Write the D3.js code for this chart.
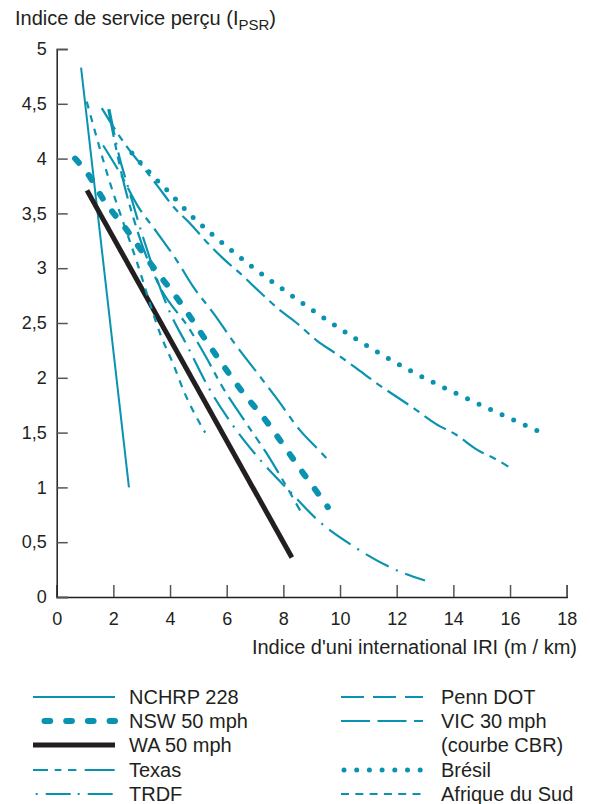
<!DOCTYPE html>
<html>
<head>
<meta charset="utf-8">
<script src="https://cdn.jsdelivr.net/npm/d3@7"></script>
<style>
  body { margin: 0; background: #fff; }
  svg { font-family: "Liberation Sans", Arial, sans-serif; }
</style>
</head>
<body>
<svg width="590" height="804"></svg>
<script>
// values: [IRI, PSR]
const nchrp = [[0.86, 4.83], [2.55, 1.0]];
const nsw = [[0.65, 4.0], [1.18, 3.83], [1.59, 3.65], [2.47, 3.35], [3.35, 3.03], [4.24, 2.73], [5.59, 2.22],
  [6.47, 1.90], [7.41, 1.60], [8.29, 1.28], [8.7, 1.13], [9.18, 0.96], [9.57, 0.82]];
const wa = [[1.07, 3.71], [8.3, 0.36]];
const texas = [[1.82, 4.45], [2.3, 3.85], [2.9, 3.3], [3.6, 2.85], [4.7, 2.44], [5.29, 2.18], [5.82, 1.93],
  [6.6, 1.62], [7.41, 1.31], [8.59, 0.79]];
const trdf = [[1.86, 4.45], [2.17, 4.06], [2.59, 3.68], [3.05, 3.28], [3.94, 2.63], [4.65, 2.27], [5.34, 1.92],
  [6.18, 1.58], [7.12, 1.27], [8.24, 0.96], [9.26, 0.69], [10.49, 0.46], [11.86, 0.26], [13.0, 0.15]];
const penn = [[1.64, 4.12], [2.23, 3.87], [2.88, 3.56], [3.53, 3.33], [4.24, 3.07], [4.82, 2.83], [5.53, 2.59],
  [6.29, 2.31], [7.18, 2.01], [7.77, 1.81], [8.59, 1.52], [9.29, 1.33], [9.65, 1.23]];
const vic = [[1.59, 4.46], [2.0, 4.29], [2.5, 4.1], [2.9, 3.97], [3.59, 3.74], [4.12, 3.56], [4.7, 3.41],
  [5.29, 3.24], [5.87, 3.09], [6.53, 2.94], [7.18, 2.78], [7.82, 2.63], [8.47, 2.50], [9.18, 2.34],
  [9.86, 2.22], [10.56, 2.09], [11.24, 1.96], [12.67, 1.71], [13.38, 1.58], [14.1, 1.48], [14.86, 1.34],
  [15.55, 1.25], [15.94, 1.19]];
const bresil = [[2.53, 4.09], [2.82, 4.0], [3.15, 3.91], [3.47, 3.82], [3.79, 3.74], [4.75, 3.48], [6.13, 3.17],
  [6.86, 3.02], [8.35, 2.74], [10.59, 2.35], [12.59, 2.05], [14.24, 1.84], [17.12, 1.50]];
const afrique = [[1.06, 4.52], [1.82, 3.83], [2.8, 3.08], [3.7, 2.37], [4.12, 2.12], [4.5, 1.87], [5.24, 1.50]];

const xTicks = [0, 2, 4, 6, 8, 10, 12, 14, 16, 18];
const yTicks = [0, 0.5, 1, 1.5, 2, 2.5, 3, 3.5, 4, 4.5, 5];

const teal = "#0a93b0";
const ink = "#231f20";

const series = [
  {name: "NCHRP 228", data: nchrp, color: teal, width: 2, dash: null, cap: "butt",
    col: 0, row: 0, ldash: null, loff: 0, lx1: 0},
  {name: "NSW 50 mph", data: nsw, color: teal, width: 6, dash: "5.7 15.8", cap: "round",
    col: 0, row: 1, ldash: "5.7 16", loff: 0, lx1: 11.5},
  {name: "WA 50 mph", data: wa, color: ink, width: 5, dash: null, cap: "butt",
    col: 0, row: 2, ldash: null, loff: 0, lx1: 0},
  {name: "Texas", data: texas, color: teal, width: 2.2, dash: "28 6.7 6.7 6.7 8 7", cap: "butt",
    col: 0, row: 3, ldash: "30 6.7 6.7 6.7 8.3 8.3", loff: 15, lx1: 0},
  {name: "TRDF", data: trdf, color: teal, width: 2.2, dash: "26 8 2 8", cap: "butt",
    col: 0, row: 4, ldash: "2 8 25 7", loff: 0, lx1: 2.7},
  {name: "Penn DOT", data: penn, color: teal, width: 2.2, dash: "28 7 7 7", cap: "butt",
    col: 1, row: 0, ldash: "23 9", loff: 0, lx1: 0},
  {name: "VIC 30 mph", data: vic, color: teal, width: 2.2, dash: "25 6.5 7 6.5", cap: "butt",
    col: 1, row: 1, ldash: "29 7.5", loff: 0, lx1: 0},
  {name: "Brésil", data: bresil, color: teal, width: 5, dash: "0 12.7", cap: "round",
    col: 1, row: 3, ldash: "0 12.7", loff: 0, lx1: 3},
  {name: "Afrique du Sud", data: afrique, color: teal, width: 2.2, dash: "7 7", cap: "butt",
    col: 1, row: 4, ldash: "8 6.3", loff: 0, lx1: 0}
];

const svg = d3.select("svg");

const x = d3.scaleLinear().domain([0, 18]).range([56.7, 566.7]);
const y = d3.scaleLinear().domain([0, 5]).range([597, 49]);

const fmt = d => String(d).replace(".", ",");

const xAxis = d3.axisBottom(x)
  .tickValues(xTicks)
  .tickSize(-12)
  .tickPadding(15)
  .tickFormat(fmt);

const yAxis = d3.axisLeft(y)
  .tickValues(yTicks)
  .tickSize(-11)
  .tickPadding(10)
  .tickFormat(fmt);

const gx = svg.append("g")
  .attr("transform", `translate(0, ${y(0)})`)
  .call(xAxis);

const gy = svg.append("g")
  .attr("transform", `translate(${x(0)}, 0)`)
  .call(yAxis);

[gx, gy].forEach(g => {
  g.select(".domain").attr("stroke", ink).attr("stroke-width", 1.5);
  g.selectAll(".tick line").attr("stroke", "#555").attr("stroke-width", 1.5);
  g.selectAll(".tick text")
    .attr("fill", ink)
    .style("font-size", "18px")
    .style("font-family", "'Liberation Sans', Arial, sans-serif");
});

// titles
const t = svg.append("text")
  .attr("x", 15)
  .attr("y", 25)
  .attr("fill", ink)
  .style("font-size", "20px")
  .text("Indice de service perçu (I");
t.append("tspan").attr("dy", 5).style("font-size", "15px").text("PSR");
t.append("tspan").attr("dy", -5).text(")");

svg.append("text")
  .attr("x", 577)
  .attr("y", 654)
  .attr("text-anchor", "end")
  .attr("fill", ink)
  .style("font-size", "20px")
  .text("Indice d'uni international IRI (m / km)");

// curves
const line = d3.line()
  .x(d => x(d[0]))
  .y(d => y(d[1]))
  .curve(d3.curveMonotoneX);

svg.append("g")
  .selectAll("path")
  .data(series)
  .enter()
  .append("path")
  .attr("d", d => line(d.data))
  .attr("fill", "none")
  .attr("stroke", d => d.color)
  .attr("stroke-width", d => d.width)
  .attr("stroke-dasharray", d => d.dash)
  .attr("stroke-linecap", d => d.cap)
  .each(function(d) {
    // dotted curve: shift the pattern so a dot lands on the last point too
    if (d.name === "Brésil") {
      const len = this.getTotalLength();
      const rest = len % 12.7;
      d3.select(this).attr("stroke-dashoffset", -rest / 2);
    }
  });

// legend
const rows = [697, 721, 745, 770, 794];
const cols = [{lx: 33, tx: 129}, {lx: 341, tx: 441}];

const legend = svg.append("g")
  .selectAll("g")
  .data(series)
  .enter()
  .append("g")
  .attr("transform", d => `translate(${cols[d.col].lx}, ${rows[d.row]})`);

legend.append("line")
  .attr("x1", d => d.lx1)
  .attr("x2", 82)
  .attr("stroke", d => d.color)
  .attr("stroke-width", d => d.width)
  .attr("stroke-dasharray", d => d.ldash)
  .attr("stroke-dashoffset", d => d.loff)
  .attr("stroke-linecap", d => d.cap);

legend.append("text")
  .attr("x", d => cols[d.col].tx - cols[d.col].lx)
  .attr("y", 7)
  .attr("fill", ink)
  .style("font-size", "20px")
  .text(d => d.name);

svg.append("text")
  .attr("x", cols[1].tx)
  .attr("y", rows[2] + 7)
  .attr("fill", ink)
  .style("font-size", "20px")
  .text("(courbe CBR)");
</script>
</body>
</html>
